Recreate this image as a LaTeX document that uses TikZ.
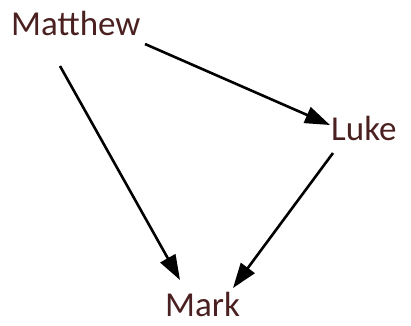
\documentclass[tikz,border=0pt]{standalone}
\usepackage{fontspec}
\setmainfont{Carlito}
\usetikzlibrary{arrows.meta}
\definecolor{txt}{HTML}{4A2020}
\begin{document}
\begin{tikzpicture}[x=1pt,y=1pt,
  lbl/.style={anchor=base west,inner sep=0pt,text=txt,font=\fontsize{35}{38}\selectfont},
  arr/.style={line width=2.6pt,-{Triangle[length=25pt,width=17pt]}}]
\useasboundingbox (0,0) rectangle (411,-325);
\node[lbl] (M) at (11,-35) {Matthew};
\node[lbl] (L) at (331,-140) {Luke};
\node[lbl] (K) at (165,-316) {Mark};
\draw[arr] ([shift={(134,-9)}]M.base west) -- ([shift={(-1,15)}]L.base west);
\draw[arr] ([shift={(49,-31)}]M.base west) -- ([shift={(15,36)}]K.base west);
\draw[arr] ([shift={(2,-13)}]L.base west) -- ([shift={(68,28)}]K.base west);
\end{tikzpicture}
\end{document}
